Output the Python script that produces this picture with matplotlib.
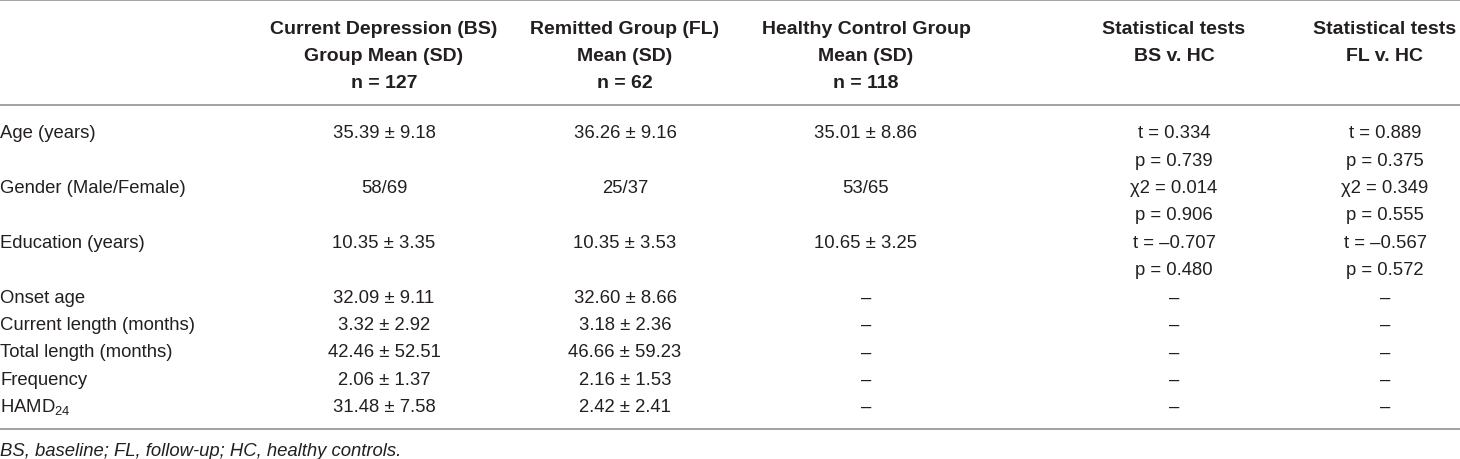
import matplotlib.pyplot as plt

plt.rcParams['font.family'] = ['Liberation Sans', 'DejaVu Sans']
plt.rcParams['mathtext.fontset'] = 'custom'
plt.rcParams['mathtext.rm'] = 'Liberation Sans'

# table contents
col_headers = [
    ["Current Depression (BS)", "Group Mean (SD)", "n = 127"],
    ["Remitted Group (FL)", "Mean (SD)", "n = 62"],
    ["Healthy Control Group", "Mean (SD)", "n = 118"],
    ["Statistical tests", "BS v. HC"],
    ["Statistical tests", "FL v. HC"],
]
row_labels = ["Age (years)", "Gender (Male/Female)", "Education (years)", "Onset age",
              "Current length (months)", "Total length (months)", "Frequency",
              "HAMD$_{\\mathregular{24}}$"]
bs_group = ["35.39 ± 9.18", "58/69", "10.35 ± 3.35", "32.09 ± 9.11", "3.32 ± 2.92",
            "42.46 ± 52.51", "2.06 ± 1.37", "31.48 ± 7.58"]
fl_group = ["36.26 ± 9.16", "25/37", "10.35 ± 3.53", "32.60 ± 8.66", "3.18 ± 2.36",
            "46.66 ± 59.23", "2.16 ± 1.53", "2.42 ± 2.41"]
hc_group = ["35.01 ± 8.86", "53/65", "10.65 ± 3.25", "–", "–", "–", "–", "–"]
test_bs = [["t = 0.334", "p = 0.739"], ["χ2 = 0.014", "p = 0.906"], ["t = –0.707", "p = 0.480"],
           ["–"], ["–"], ["–"], ["–"], ["–"]]
test_fl = [["t = 0.889", "p = 0.375"], ["χ2 = 0.349", "p = 0.555"], ["t = –0.567", "p = 0.572"],
           ["–"], ["–"], ["–"], ["–"], ["–"]]
footnote = "BS, baseline; FL, follow-up; HC, healthy controls."

W, H = 1460, 460
fig = plt.figure(figsize=(W / 100, H / 100), dpi=100)
ax = fig.add_axes([0, 0, 1, 1])
ax.set_xlim(0, W)
ax.set_ylim(H, 0)
ax.axis('off')

col_x = [384, 625, 866, 1174, 1385]
fs = 13.3
txt_color = '#231f20'
line_color = '#9a9a9a'
step = 27.4

# rules
for y in [1.2, 105.5, 429.5]:
    ax.plot([0, W], [y, y], color=line_color, lw=1.3, solid_capstyle='butt')

# header (y = baseline)
for x, lines in zip(col_x, col_headers):
    for i, t in enumerate(lines):
        ax.text(x, 33.5 + i * step, t, ha='center', va='baseline', fontsize=14,
                fontweight='bold', color=txt_color)

# body
y = 138.3
for k, label in enumerate(row_labels):
    ax.text(0, y, label, ha='left', va='baseline', fontsize=fs, color=txt_color)
    for x, vals in zip(col_x[:3], [bs_group, fl_group, hc_group]):
        ax.text(x, y, vals[k], ha='center', va='baseline', fontsize=fs, color=txt_color)
    n = max(len(test_bs[k]), len(test_fl[k]))
    for x, vals in zip(col_x[3:], [test_bs[k], test_fl[k]]):
        for i, t in enumerate(vals):
            ax.text(x, y + i * step, t, ha='center', va='baseline', fontsize=fs, color=txt_color)
    y += n * step

ax.text(0, 456.5, footnote, ha='left', va='baseline', fontsize=fs, style='italic', color=txt_color)

fig.savefig('out.png', dpi=100)
